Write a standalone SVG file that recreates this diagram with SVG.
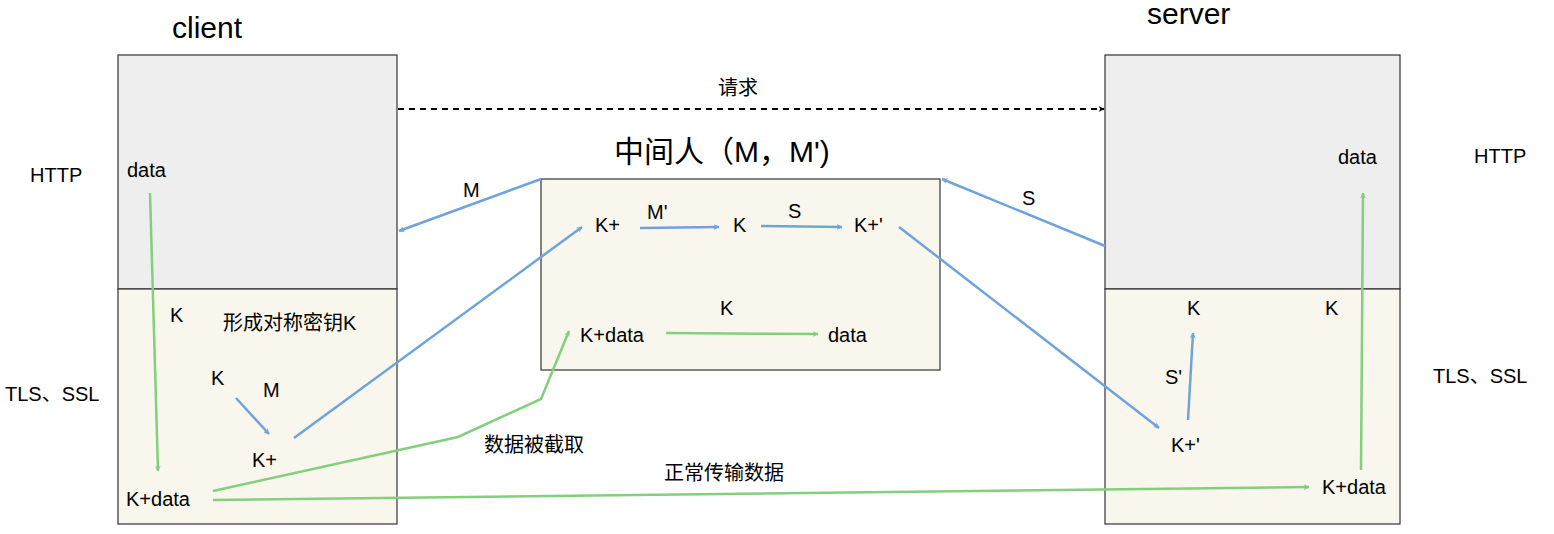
<svg xmlns="http://www.w3.org/2000/svg" width="1554" height="534" viewBox="0 0 1554 534">
<style>
text{font-family:"Liberation Sans",Arial,"Noto Sans CJK SC",sans-serif;font-size:20px;fill:#000}
.t{font-size:30px}
.b{stroke:#6fa3dc;stroke-width:2.5;fill:none;marker-end:url(#ab)}
.bn{stroke:#6fa3dc;stroke-width:2.5;fill:none}
.g{stroke:#82cf7c;stroke-width:2.5;fill:none;marker-end:url(#ag)}
.gn{stroke:#82cf7c;stroke-width:2.5;fill:none}
.box{stroke:#333;stroke-width:1.2}
</style>
<defs>
<marker id="ab" viewBox="0 0 10 10" refX="9" refY="5" markerWidth="6" markerHeight="6" orient="auto" markerUnits="userSpaceOnUse"><path d="M0,0L10,5L0,10L3,5z" fill="#6fa3dc" transform="scale(1)"/></marker>
<marker id="ag" viewBox="0 0 10 10" refX="9" refY="5" markerWidth="6" markerHeight="6" orient="auto" markerUnits="userSpaceOnUse"><path d="M0,0L10,5L0,10L3,5z" fill="#82cf7c"/></marker>
<marker id="ak" viewBox="0 0 10 10" refX="9" refY="5" markerWidth="6" markerHeight="6" orient="auto" markerUnits="userSpaceOnUse"><path d="M0,0L10,5L0,10L3,5z" fill="#000"/></marker>
</defs>
<style>marker path{transform:scale(1)}</style>
<g id="client">
<rect class="box" x="118" y="55" width="279" height="234" fill="#eeeeee"/>
<rect class="box" x="118" y="289" width="279" height="235" fill="#f9f7ed"/>
<text x="172" y="38" class="t">client</text>
</g>
<g id="server">
<rect class="box" x="1105" y="55" width="295" height="234" fill="#eeeeee"/>
<rect class="box" x="1105" y="289" width="295" height="235" fill="#f9f7ed"/>
<text x="1147" y="24" class="t">server</text>
</g>
<g id="mitm">
<rect class="box" x="541" y="179" width="399" height="191" fill="#f9f7ed"/>
<text x="614" y="162" class="t">中间人（M，M')</text>
</g>
<g id="labels">
<text x="30" y="182">HTTP</text>
<text x="5" y="401">TLS、SSL</text>
<text x="1474" y="163">HTTP</text>
<text x="1433" y="383">TLS、SSL</text>
<text x="127" y="177">data</text>
<text x="170" y="322">K</text>
<text x="223" y="330">形成对称密钥K</text>
<text x="211" y="385">K</text>
<text x="263" y="397">M</text>
<text x="252" y="467">K+</text>
<text x="126" y="506">K+data</text>
<text x="595" y="232">K+</text>
<text x="647" y="219">M'</text>
<text x="733" y="232">K</text>
<text x="788" y="218">S</text>
<text x="854" y="232">K+'</text>
<text x="720" y="315">K</text>
<text x="580" y="342">K+data</text>
<text x="828" y="342">data</text>
<text x="718" y="95">请求</text>
<text x="463" y="197">M</text>
<text x="1022" y="205">S</text>
<text x="484" y="452">数据被截取</text>
<text x="664" y="480">正常传输数据</text>
<text x="1338" y="164">data</text>
<text x="1187" y="315">K</text>
<text x="1325" y="315">K</text>
<text x="1165" y="384">S'</text>
<text x="1171" y="452">K+'</text>
<text x="1322" y="494">K+data</text>
</g>
<g id="connectors">
<path d="M398,109H1104" stroke="#000" stroke-width="2" stroke-dasharray="6,5" fill="none" marker-end="url(#ak)"/>
<path class="b" d="M541,179L399,231"/>
<path class="b" d="M1105,246L942,179"/>
<path class="b" d="M236,398L269,434"/>
<path class="b" d="M294,438L582,227"/>
<path class="b" d="M640,228L719,227"/>
<path class="b" d="M761,226L842,227"/>
<path class="b" d="M899,227L1159,428"/>
<path class="b" d="M1188,420L1193,333"/>
<path class="g" d="M150,193L158,471"/>
<path class="g" d="M666,333L818,334"/>
<path class="g" d="M213,491L458,437L541,399L569,331"/>
<path class="g" d="M213,500L1309,487"/>
<path class="g" d="M1361,470L1363,193"/>
</g>
</svg>
